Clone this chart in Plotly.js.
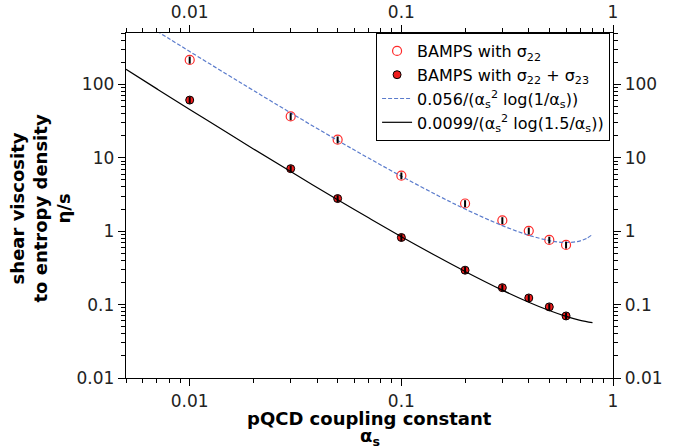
<!DOCTYPE html>
<html>
<head>
<meta charset="utf-8">
<script src="https://cdn.plot.ly/plotly-3.0.1.min.js"></script>
<style>html,body{margin:0;padding:0;background:#fff}#chart{width:687px;height:447px}</style>
</head>
<body>
<div id="chart"></div>
<script>
// BAMPS data points
var alphaS = [0.01, 0.03, 0.05, 0.1, 0.2, 0.3, 0.4, 0.5, 0.6];
var etaS22 = [215, 36.5, 17.6, 5.7, 2.38, 1.40, 1.01, 0.76, 0.65];
var etaS22s23 = [61, 7.1, 2.78, 0.82, 0.294, 0.170, 0.123, 0.093, 0.070];
var errS22 = [24, 4.0, 1.9, 0.6, 0.26, 0.15, 0.11, 0.08, 0.07];
var errS22s23 = [6.5, 0.75, 0.3, 0.09, 0.031, 0.018, 0.013, 0.010, 0.0075];

// fit curves, values
var fitX1 = [0.007, 0.008, 0.01, 0.015, 0.02, 0.03, 0.05, 0.07, 0.1, 0.15, 0.2, 0.3, 0.4, 0.5, 0.55, 0.6, 0.65, 0.7, 0.75, 0.8];
var fitY1 = [530.3, 417.3, 280, 136.5, 82.40, 40.86, 17.22, 9.896, 5.6, 3.021, 2.003, 1.190, 0.8796, 0.7441, 0.7130, 0.7012, 0.7084, 0.7378, 0.7968, 0.9029];
var fitX2 = [0.005, 0.007, 0.01, 0.015, 0.02, 0.03, 0.05, 0.07, 0.1, 0.15, 0.2, 0.3, 0.4, 0.5, 0.6, 0.7, 0.8];
var fitY2 = [159.9, 86.68, 45.49, 22.0, 13.20, 6.474, 2.681, 1.518, 0.8418, 0.4400, 0.2828, 0.1574, 0.1078, 0.0830, 0.06911, 0.06104, 0.05666];

var names = [
  'BAMPS with σ<sub>22</sub>',
  'BAMPS with σ<sub>22</sub> + σ<sub>23</sub>',
  '0.056/(α<sub>s</sub><sup>2</sup> log(1/α<sub>s</sub>))',
  '0.0099/(α<sub>s</sub><sup>2</sup> log(1.5/α<sub>s</sub>))'
];
var xTitle1 = '<b>pQCD coupling constant</b>';
var xTitle2 = '<b>α<sub>s</sub></b>';
var yTitle = '<b>shear viscosity<br>to entropy density<br>η/s</b>';

var xr = [Math.log10(0.005), 0];
var yr = [-2, Math.log10(500)];

var traces = [
  {x: alphaS, y: etaS22, name: names[0], mode: 'markers', type: 'scatter',
   marker: {symbol: 'circle-open', size: 9, color: '#ff2a2a', line: {width: 1.2}}},
  {x: alphaS, y: etaS22s23, name: names[1], mode: 'markers', type: 'scatter',
   marker: {symbol: 'circle', size: 8, color: '#ee1c1c', line: {width: 1, color: '#000'}}},
  {x: fitX1, y: fitY1, name: names[2], mode: 'lines', type: 'scatter', line: {shape: 'spline',
   color: '#5a7bcc', width: 1.2, dash: '4px,2px'}},
  {x: fitX2, y: fitY2, name: names[3], mode: 'lines', type: 'scatter', line: {shape: 'spline',
   color: '#000', width: 1.2}},
  {x: alphaS, y: etaS22, mode: 'none', type: 'scatter', showlegend: false, xaxis: 'x2', yaxis: 'y2',
   error_y: {type: 'data', array: errS22, color: '#000', thickness: 2, width: 0}, hoverinfo: 'skip'},
  {x: alphaS, y: etaS22s23, mode: 'none', type: 'scatter', showlegend: false, xaxis: 'x2', yaxis: 'y2',
   error_y: {type: 'data', array: errS22s23, color: '#000', thickness: 2, width: 0}, hoverinfo: 'skip'}
];

var tickFont = {family: 'DejaVu Sans', size: 17, color: '#222'};
var common = {type: 'log', showgrid: false, zeroline: false, showline: true, linecolor: '#000', linewidth: 1.3,
  ticks: 'outside', ticklen: 7, tickwidth: 1, tickcolor: '#000', tickfont: tickFont, dtick: 1,
  minor: {ticks: 'outside', ticklen: 4, tickwidth: 1, tickcolor: '#000', showgrid: false, dtick: 'D1'}};

function ax(extra) { return Object.assign({}, JSON.parse(JSON.stringify(common)), extra); }

var titleFont = {family: 'DejaVu Sans', size: 18, color: '#000'};

var layout = {
  width: 687, height: 447,
  margin: {l: 126, r: 74, t: 33, b: 69},
  paper_bgcolor: '#fff', plot_bgcolor: '#fff',
  font: {family: 'DejaVu Sans', color: '#000'},
  showlegend: true,
  legend: {x: 0.994, y: 1, xanchor: 'right', yanchor: 'top', bgcolor: '#fff', bordercolor: '#000', borderwidth: 1,
    font: {family: 'DejaVu Sans', size: 16, color: '#000'}, tracegroupgap: 0, itemwidth: 30},
  xaxis: ax({range: xr}),
  yaxis: ax({range: yr}),
  xaxis2: ax({range: xr, overlaying: 'x', side: 'top', anchor: 'y2'}),
  yaxis2: ax({range: yr, overlaying: 'y', side: 'right', anchor: 'x2'}),
  annotations: [
    {text: xTitle1, xref: 'paper', yref: 'paper', x: 0.5, y: 0, xanchor: 'center', yanchor: 'middle',
     yshift: -40, showarrow: false, font: titleFont},
    {text: xTitle2, xref: 'paper', yref: 'paper', x: 0.5, y: 0, xanchor: 'center', yanchor: 'middle',
     yshift: -59, showarrow: false, font: titleFont},
    {text: yTitle, xref: 'paper', yref: 'paper', x: 0, y: 0.5, xanchor: 'center', yanchor: 'middle',
     xshift: -86, yshift: -3, textangle: -90, showarrow: false, font: titleFont}
  ]
};

Plotly.newPlot('chart', traces, layout, {displayModeBar: false, staticPlot: true});
</script>
</body>
</html>
